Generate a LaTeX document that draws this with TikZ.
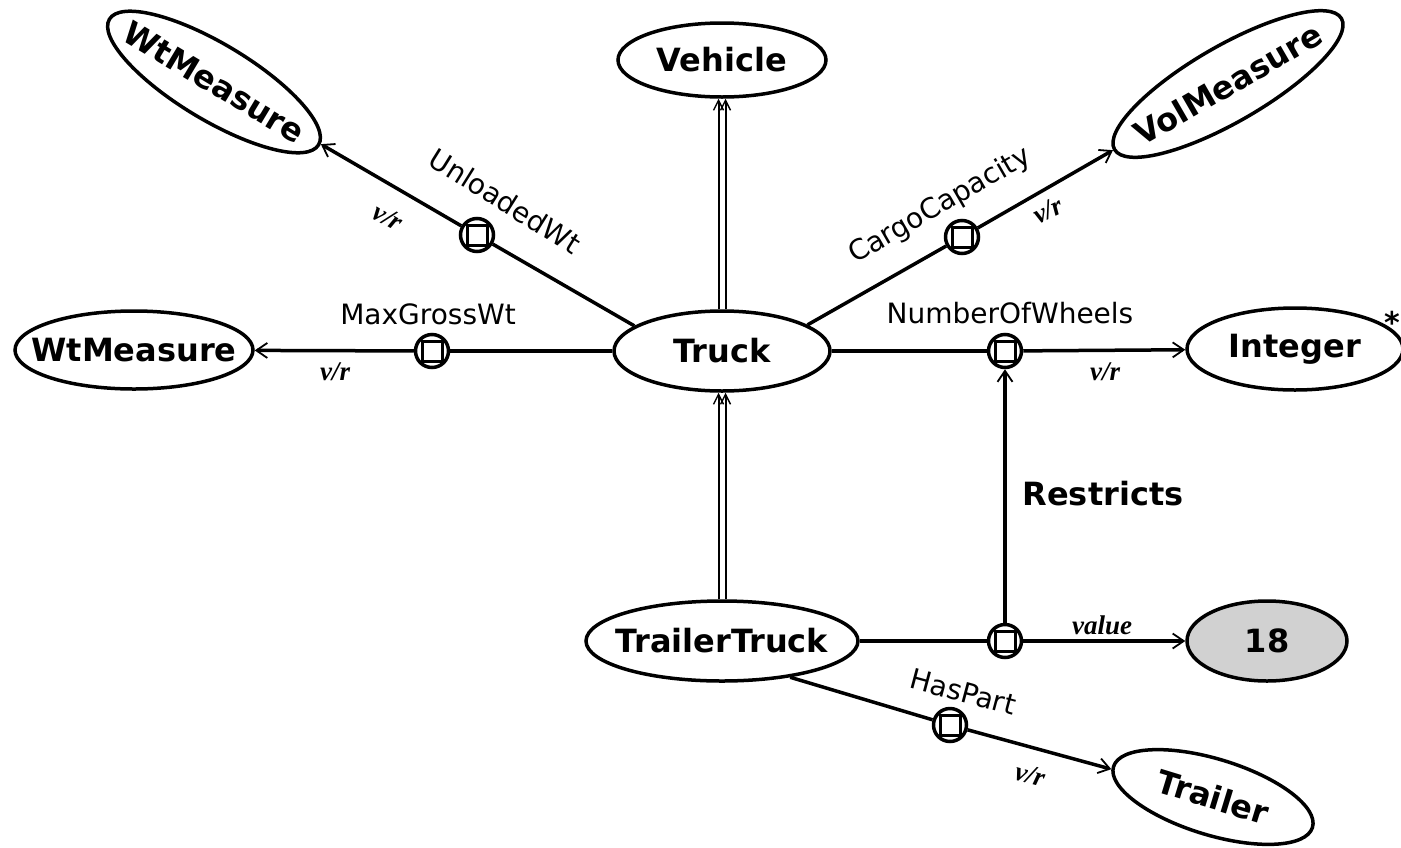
\documentclass[tikz,border=0pt]{standalone}
\usepackage{fontspec}
\setmainfont{DejaVu Sans}
\newfontfamily\lblfont{Liberation Serif}
\usetikzlibrary{arrows.meta,shapes.geometric}
\newcommand{\zw}[1]{\makebox[0pt]{#1}}
\begin{document}
\begin{tikzpicture}[x=1pt,y=-1pt,
  cls/.style={ellipse, draw, line width=3.5pt, inner sep=0pt, font=\fontsize{32}{36}\selectfont\bfseries},
  rel/.style={circle, draw, line width=3.5pt, minimum size=33pt, inner sep=0pt, fill=white,
    path picture={\draw[line width=3pt] ([shift={(-10pt,-10pt)}]path picture bounding box.center) rectangle ([shift={(10pt,10pt)}]path picture bounding box.center);}},
  link/.style={line width=3.5pt},
  arr/.style={link, -{Straight Barb[length=11pt,width=15pt,line width=1.8pt]}},
  isa/.style={line width=2pt, -{Straight Barb[length=10pt,width=10pt,line width=1.4pt]}},
  rlab/.style={font=\fontsize{28}{32}\selectfont},
  vr/.style={font=\lblfont\fontsize{27}{30}\selectfont\bfseries\itshape},
]
\useasboundingbox (0,0) rectangle (1401,847);
\fill[white] (0,0) rectangle (1401,847);
\clip (0,0) rectangle (1401,847);

% class nodes
\node[cls, minimum width=208pt, minimum height=74pt] (veh) at (722,60) {\zw{Vehicle}};
\node[cls, minimum width=216pt, minimum height=80pt] (truck) at (722,351) {\zw{Truck}};
\node[cls, minimum width=272pt, minimum height=80pt] (tt) at (722,641) {\zw{TrailerTruck}};
\node[cls, minimum width=238pt, minimum height=78pt] (wt) at (134,350) {\zw{WtMeasure}};
\node[cls, minimum width=244pt, minimum height=76pt, rotate=-31] (wt2) at (214,82) {\zw{WtMeasure}};
\node[cls, minimum width=262pt, minimum height=76pt, rotate=30] (vol) at (1228,84) {\zw{VolMeasure}};
\node[cls, minimum width=216pt, minimum height=82pt] (int) at (1295,349) {\zw{Integer}};
\node[cls, minimum width=160pt, minimum height=80pt, fill=black!18] (v18) at (1267,641) {\zw{18}};
\node[cls, minimum width=208pt, minimum height=76pt, rotate=-17] (trl) at (1213,797) {\zw{Trailer}};

% relation nodes
\node[rel] (mg) at (432,351) {};
\node[rel] (uw) at (477,235) {};
\node[rel] (cc) at (962,237) {};
\node[rel] (nw) at (1005,351) {};
\node[rel] (rs) at (1005,641) {};
\node[rel] (hp) at (950,725) {};

% connectors
\draw[link] (truck) -- (mg);
\draw[arr] (mg) -- (wt);
\draw[link] (truck.164) -- (uw);
\draw[arr] (uw) -- (wt2);
\draw[link] (truck.17) -- (cc);
\draw[arr] (cc) -- (vol);
\draw[link] (truck) -- (nw);
\draw[arr] (nw) -- (int);
\draw[link] (tt) -- (rs);
\draw[arr] (rs) -- (v18);
\draw[arr] (rs) -- (nw);
\draw[link] (tt.-28) -- (hp);
\draw[arr] (hp) -- (trl);

\draw[isa] ([xshift=-3.5pt]truck.north) -- ([xshift=-3.5pt]veh.south);
\draw[isa] ([xshift=3.5pt]truck.north) -- ([xshift=3.5pt]veh.south);
\draw[isa] ([xshift=-3.5pt]tt.north) -- ([xshift=-3.5pt]truck.south);
\draw[isa] ([xshift=3.5pt]tt.north) -- ([xshift=3.5pt]truck.south);

% labels
\node[rlab] (lmg) at (428,314) {MaxGrossWt};
\node[rlab] (lnw) at (1010,313) {NumberOfWheels};
\node[rlab, rotate=-32] (luw) at (505,201) {UnloadedWt};
\node[rlab, rotate=30] (lcc) at (940,206) {CargoCapacity};
\node[rlab, rotate=-15] (lhp) at (963,692) {HasPart};
\node[font=\fontsize{32}{36}\selectfont\bfseries] (lrs) at (1103,494) {Restricts};
\node[vr] (vr1) at (335,372) {v/r};
\node[vr, rotate=-30] (vr2) at (388,217) {v/r};
\node[vr, rotate=25] (vr3) at (1048,210) {v/r};
\node[vr] (vr4) at (1105,372) {v/r};
\node[vr, rotate=-15] (vr5) at (1030,775) {v/r};
\node[vr] (lval) at (1102,625) {value};
\node[font=\fontsize{30}{32}\selectfont\bfseries] (ast) at (1392,322) {*};
\end{tikzpicture}
\end{document}
